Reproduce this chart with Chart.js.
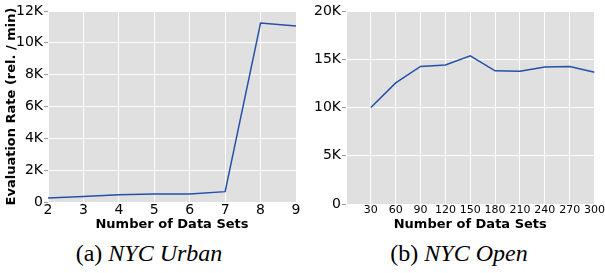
<!DOCTYPE html>
<html>
<head>
<meta charset="utf-8">
<script src="https://cdn.jsdelivr.net/npm/chart.js@4.4.1/dist/chart.umd.min.js"></script>
<style>
  body { margin: 0; background: #fff; width: 605px; height: 273px; overflow: hidden; position: relative; }
  .box { position: absolute; top: 0; height: 240px; }
  .caption { position: absolute; top: 241px; font: 24px "Liberation Serif", "Times New Roman", serif; line-height: 24px; text-align: center; white-space: nowrap; }
  .caption i { font-style: italic; }
</style>
</head>
<body>
<div class="box" style="left:0;width:305px"><canvas id="urbanChart" width="305" height="240"></canvas></div>
<div class="box" style="left:305px;width:300px"><canvas id="openChart" width="300" height="240"></canvas></div>
<div class="caption" style="left:49px;width:200px">(a) <i>NYC Urban</i></div>
<div class="caption" style="left:359px;width:200px">(b) <i>NYC Open</i></div>
<script>
// (a) NYC Urban
const urbanDataSets = [2, 3, 4, 5, 6, 7, 8, 9];
const urbanRates = [250, 350, 450, 500, 500, 650, 11250, 11050];

// (b) NYC Open
const openDataSets = [30, 60, 90, 120, 150, 180, 210, 240, 270, 300];
const openRates = [10000, 12550, 14250, 14400, 15350, 13800, 13750, 14200, 14250, 13650];

const xTitle = 'Number of Data Sets';
const yTitle = 'Evaluation Rate (rel. / min)';

const lineColor = '#2350a8';
const font = 'DejaVu Sans';

const plotBackground = {
  id: 'plotBackground',
  beforeDraw(chart) {
    const { ctx, chartArea: a } = chart;
    ctx.save();
    ctx.fillStyle = '#e0e0e0';
    ctx.fillRect(a.left, a.top, a.right - a.left, a.bottom - a.top);
    ctx.restore();
  }
};

function kLabel(v) {
  return v === 0 ? '0' : (v / 1000) + 'K';
}

function makeChart(id, xs, ys, opts) {
  const ctx = document.getElementById(id).getContext('2d');
  return new Chart(ctx, {
    type: 'line',
    data: {
      datasets: [{
        data: xs.map((x, i) => ({ x: x, y: ys[i] })),
        borderColor: lineColor,
        borderWidth: 1.5,
        pointRadius: 0,
        tension: 0,
        fill: false
      }]
    },
    options: {
      responsive: false,
      animation: false,
      layout: { padding: { top: 11, right: 9, left: 0, bottom: 8 } },
      plugins: { legend: { display: false }, tooltip: { enabled: false } },
      scales: {
        x: {
          type: 'linear',
          min: opts.xMin,
          max: opts.xMax,
          border: { display: false },
          grid: { color: '#ffffff', lineWidth: 1, drawTicks: false },
          ticks: {
            stepSize: opts.xStep,
            color: '#000',
            font: { family: font, size: opts.xTickSize },
            padding: 0,
            maxRotation: 0,
            autoSkip: false,
            callback: v => (v === 0 && opts.hideZeroX) ? '' : v
          },
          title: {
            display: true,
            text: xTitle,
            color: '#000',
            font: { family: font, size: 13, weight: 'bold' },
            padding: { top: 0, bottom: 0 }
          },
          afterFit: s => { s.height = opts.xHeight; }
        },
        y: {
          min: 0,
          max: opts.yMax,
          border: { display: false },
          grid: { color: '#ffffff', lineWidth: 1, tickLength: 4, tickColor: '#999999' },
          ticks: {
            stepSize: opts.yStep,
            color: '#000',
            font: { family: font, size: 14 },
            padding: 1,
            callback: kLabel
          },
          title: {
            display: !!opts.yTitle,
            text: opts.yTitle || '',
            color: '#000',
            font: { family: font, size: 13, weight: 'bold' },
            padding: { top: 4, bottom: 0 }
          },
          afterFit: s => { s.width = opts.yWidth; }
        }
      }
    },
    plugins: [plotBackground]
  });
}

makeChart('urbanChart', urbanDataSets, urbanRates, {
  xMin: 2, xMax: 9, xStep: 1, xTickSize: 14,
  yMax: 12000, yStep: 2000,
  yTitle: yTitle, yWidth: 48, xHeight: 30
});

makeChart('openChart', openDataSets, openRates, {
  xMin: 0, xMax: 300, xStep: 30, xTickSize: 11, hideZeroX: true,
  yMax: 20000, yStep: 5000,
  yWidth: 41, xHeight: 28
});
</script>
</body>
</html>
